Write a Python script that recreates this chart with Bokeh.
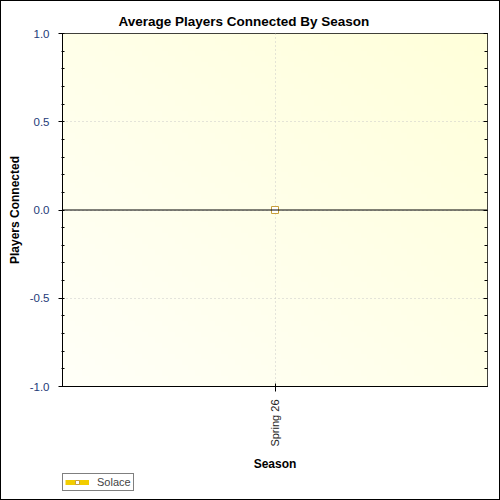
import numpy as np
from bokeh.plotting import figure
from bokeh.layouts import column
from bokeh.models import (ColumnDataSource, Span, LinearAxis, SingleIntervalTicker,
                          PrintfTickFormatter, Legend, LegendItem, Range1d, FactorRange)
from bokeh.embed import file_html
from bokeh.resources import INLINE

# ---- data ----
seasons = ["Spring 26"]
players = [0.0]
series_name = "Solace"
y_min, y_max = -1.0, 1.0

FONT = "Liberation Sans"
LINE_COLOR = "#f2cd00"
MARK_LINE = "#c8a03c"

p = figure(width=498, height=472, output_backend="svg", toolbar_location=None,
           x_range=FactorRange(factors=seasons), y_range=Range1d(y_min, y_max),
           min_border_left=61, min_border_right=12, min_border_top=32, min_border_bottom=87,
           background_fill_color="#fffff4", border_fill_color="white")

# gradient background (decorative)
n = 64
u = np.linspace(0, 1, n)
uu, vv = np.meshgrid(u, u)
t = (uu + vv) / 2.0
img = np.zeros((n, n), dtype=np.uint32)
view = img.view(dtype=np.uint8).reshape((n, n, 4))
view[:, :, 0] = 255
view[:, :, 1] = 255
view[:, :, 2] = (248 - t * 30).astype(np.uint8)
view[:, :, 3] = 255
p.image_rgba(image=[img], x=0, y=y_min, dw=len(seasons), dh=y_max - y_min, level="image")

# title
p.title.text = "Average Players Connected By Season"
p.title.text_font = FONT
p.title.text_font_size = "13.5px"
p.title.text_font_style = "bold"
p.title.text_color = "black"
p.title.align = "left"
p.title.offset = 56
p.title.standoff = 10

p.outline_line_color = "black"
p.outline_line_alpha = 1.0

# axes
yax = p.yaxis[0]
yax.ticker = SingleIntervalTicker(interval=0.5, num_minor_ticks=5)
yax.formatter = PrintfTickFormatter(format="%.1f")
yax.axis_label = "Players Connected"
yax.axis_label_text_font = FONT
yax.axis_label_text_font_size = "12px"
yax.axis_label_text_font_style = "bold"
yax.axis_label_text_color = "black"
yax.axis_label_standoff = 5
yax.major_label_text_font = FONT
yax.major_label_text_font_size = "11.5px"
yax.major_label_text_color = "#1d3a78"
yax.major_label_standoff = 9
yax.major_tick_out = 4
yax.major_tick_in = 1
yax.minor_tick_out = 1
yax.minor_tick_in = 2
yax.axis_line_color = "black"

xax = p.xaxis[0]
xax.axis_label = "Season"
xax.axis_label_text_font = FONT
xax.axis_label_text_font_size = "12px"
xax.axis_label_text_font_style = "bold"
xax.axis_label_text_color = "black"
xax.axis_label_standoff = 7
xax.major_label_text_font = FONT
xax.major_label_text_font_size = "11px"
xax.major_label_text_color = "#222222"
xax.major_label_orientation = np.pi / 2
xax.major_label_standoff = 8
xax.major_tick_out = 5
xax.major_tick_in = 3
xax.axis_line_color = "black"

rax = LinearAxis(ticker=SingleIntervalTicker(interval=0.5, num_minor_ticks=5),
                 major_label_text_alpha=0, major_label_text_font_size="1px",
                 axis_line_alpha=0, major_tick_in=4, major_tick_out=0,
                 minor_tick_in=3, minor_tick_out=0)
p.add_layout(rax, "right")

# grid
for g in (p.xgrid[0], p.ygrid[0]):
    g.grid_line_color = "#c8c8c8"
    g.grid_line_dash = "1 3"
p.ygrid[0].ticker = SingleIntervalTicker(interval=0.5)

p.add_layout(Span(location=0, dimension="width", line_color="black", line_width=1))

src = ColumnDataSource(dict(season=seasons, players=players))
p.line("season", "players", source=src, line_color=LINE_COLOR, line_width=5)
p.scatter("season", "players", source=src, marker="square", size=7,
          line_color=MARK_LINE, fill_color="white", line_width=1)

# legend strip below the chart (its renderers are hidden; only the legend shows)
lg = figure(width=498, height=26, output_backend="svg", toolbar_location=None,
            x_range=FactorRange(factors=seasons), y_range=Range1d(y_min, y_max),
            x_axis_location=None, y_axis_location=None,
            min_border=0, outline_line_color=None,
            background_fill_color="white", border_fill_color="white")
lg.grid.visible = False
lg_ln = lg.line("season", "players", source=src, line_color=LINE_COLOR, line_width=5,
                visible=False)
lg_sc = lg.scatter("season", "players", source=src, marker="square", size=7,
                   line_color=MARK_LINE, fill_color="white", line_width=1, visible=False)
legend = Legend(items=[LegendItem(label=series_name, renderers=[lg_ln, lg_sc])],
                orientation="horizontal", location=(0, 8), click_policy="none",
                border_line_color="black", border_line_width=1,
                label_text_font=FONT, label_text_font_size="11px",
                glyph_height=10, glyph_width=24, label_height=10,
                padding=2, margin=0, label_standoff=8, spacing=0,
                background_fill_alpha=1.0)
lg.add_layout(legend, "center")

root = column(p, lg, spacing=0, styles={"border": "1px solid black"})

html = file_html(root, INLINE)
html = html.replace("<head>", "<head><style>html,body{margin:0;overflow:hidden}</style>", 1)
open("out.html", "w").write(html)
